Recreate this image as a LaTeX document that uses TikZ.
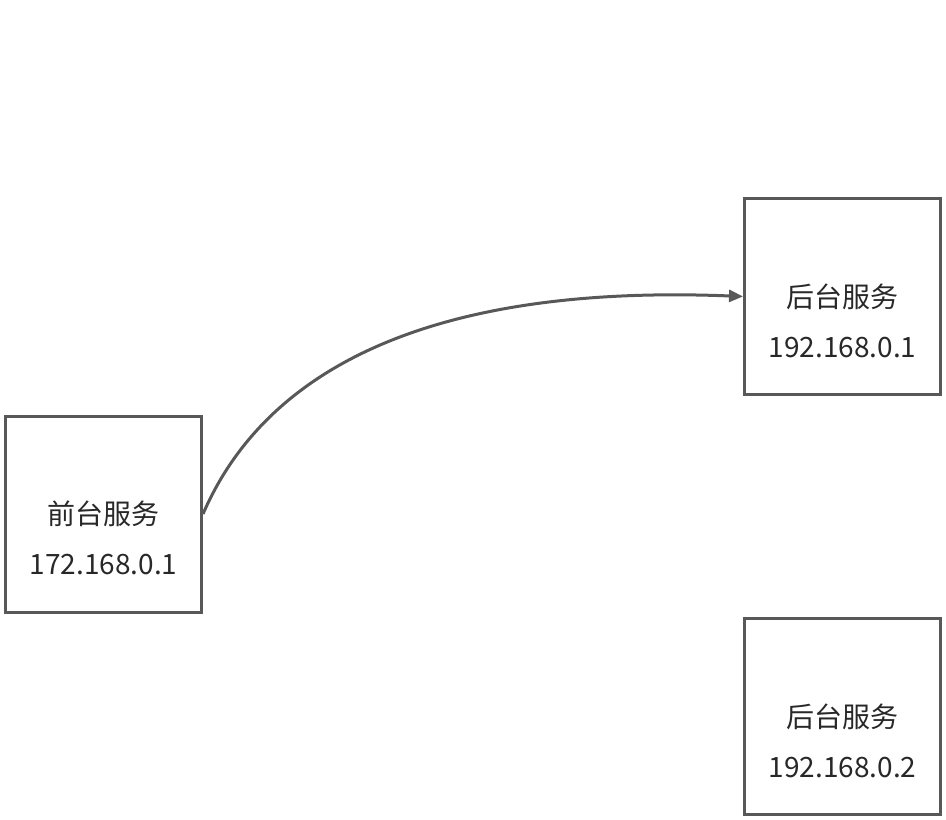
\documentclass[tikz,border=0pt]{standalone}
\usepackage{fontspec}
\newfontfamily\cjk{Noto Sans CJK SC}
\usepackage{tikz}
\usetikzlibrary{arrows.meta, positioning}
\definecolor{linegray}{RGB}{88,88,88}
\definecolor{textgray}{RGB}{40,40,40}

\begin{document}
\begin{tikzpicture}[x=1pt, y=-1pt,
  box/.style={draw=linegray, line width=3pt, minimum width=196pt, minimum height=196pt, inner sep=0pt},
  lbl/.style={font=\cjk\fontsize{28}{32}\selectfont, text=textgray, inner sep=0pt},
  conn/.style={draw=linegray, line width=3pt, -{Triangle[length=14pt, width=12pt]}}]
  \useasboundingbox (0,0) rectangle (946,820);
  \node[box] (front) at (103.5,514) {};
  \node[box] (back1) at (842.5,296.5) {};
  \node[box] (back2) at (842.5,716.5) {};
  \node[lbl] (frontname) at (front.center) {前台服务};
  \node[lbl, below=51pt of frontname.center, anchor=center] (frontip) {172.168.0.1};
  \node[lbl] (back1name) at (back1.center) {后台服务};
  \node[lbl, below=51pt of back1name.center, anchor=center] (back1ip) {192.168.0.1};
  \node[lbl] (back2name) at (back2.center) {后台服务};
  \node[lbl, below=51pt of back2name.center, anchor=center] (back2ip) {192.168.0.2};
  \draw[conn] (front.east) .. controls +(67,-155) and +(-295,-12) .. (back1.west);
\end{tikzpicture}
\end{document}
